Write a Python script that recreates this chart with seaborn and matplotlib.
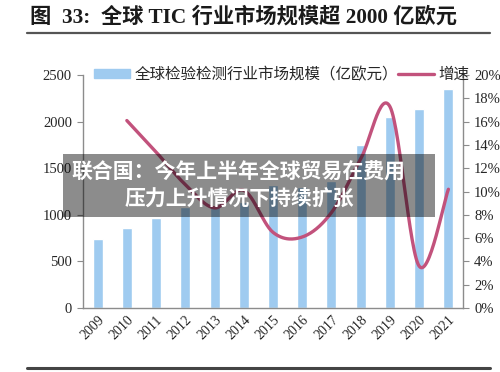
import numpy as np
import pandas as pd
import matplotlib
matplotlib.use("Agg")
import matplotlib.pyplot as plt
import seaborn as sns
from matplotlib.patches import Rectangle
from matplotlib.lines import Line2D
from matplotlib.ticker import FixedLocator

# data
years = ["2009", "2010", "2011", "2012", "2013", "2014", "2015",
         "2016", "2017", "2018", "2019", "2020", "2021"]
market_size = [740, 858, 965, 1084, 1092, 1135, 1320,
               1300, 1360, 1750, 2050, 2135, 2350]   # 亿欧元
growth_years = years[1:]
growth_rate = [16.1, 13.4, 10.6, 8.6, 10.1, 6.5,
               6.1, 8.2, 12.8, 17.3, 3.6, 10.2]        # %

BAR_COLOR = "#9fcbf0"
LINE_COLOR = "#c2527c"
SERIF = ["Liberation Serif", "Noto Sans CJK SC"]


def smooth_curve(x, y, steps=30):
    # Excel-style smoothed line: cubic bezier with control points at 1/6 of the neighbour gap
    x = np.asarray(x, float)
    y = np.asarray(y, float)
    pts = np.column_stack([x, y])
    out = []
    for i in range(len(pts) - 1):
        p0 = pts[i - 1] if i > 0 else pts[i]
        p1 = pts[i]
        p2 = pts[i + 1]
        p3 = pts[i + 2] if i + 2 < len(pts) else pts[i + 1]
        c1 = p1 + (p2 - p0) / 6
        c2 = p2 - (p3 - p1) / 6
        t = np.linspace(0, 1, steps)[:, None]
        seg = ((1 - t) ** 3) * p1 + 3 * ((1 - t) ** 2) * t * c1 + 3 * (1 - t) * t ** 2 * c2 + t ** 3 * p2
        out.append(seg if i == 0 else seg[1:])
    out = np.vstack(out)
    return out[:, 0], out[:, 1]


def draw_chart():
    sns.set_style("white")
    plt.rcParams["font.family"] = SERIF

    fig = plt.figure(figsize=(5.0, 3.72), dpi=100)
    ax = fig.add_axes([0.166, 0.172, 0.76, 0.626])

    df = pd.DataFrame({"year": years, "size": market_size})
    sns.barplot(data=df, x="year", y="size", color=BAR_COLOR, width=0.34,
                saturation=1, ax=ax)
    ax.set_xlim(-0.5, len(years) - 0.5)
    ax.set_ylim(0, 2500)
    ax.set_yticks(range(0, 2501, 500))
    ax.set_xlabel("")
    ax.set_ylabel("")

    # growth line on the right axis
    ax2 = ax.twinx()
    gx = [years.index(y) for y in growth_years]
    sx, sy = smooth_curve(gx, growth_rate)
    sns.lineplot(x=sx, y=sy, ax=ax2, color=LINE_COLOR, linewidth=2.4,
                 sort=False, estimator=None)
    ax2.set_ylim(0, 20)
    ax2.set_yticks(range(0, 21, 2))
    ax2.set_yticklabels([f"{v}%" for v in range(0, 21, 2)])

    for a in (ax, ax2):
        for side in ("top", "left", "right", "bottom"):
            a.spines[side].set_visible(False)
    ax.spines["left"].set_visible(True)
    ax.spines["bottom"].set_visible(True)
    ax2.spines["right"].set_visible(True)
    for s in (ax.spines["left"], ax.spines["bottom"], ax2.spines["right"]):
        s.set_color("#8c8c8c")
        s.set_linewidth(1.0)

    ax.tick_params(axis="y", length=4, color="#8c8c8c", labelsize=10.5, pad=4)
    ax2.tick_params(axis="y", length=4, color="#8c8c8c", labelsize=10.5, pad=4)
    # x ticks sit on the category boundaries
    ax.tick_params(axis="x", which="major", length=0, labelsize=10, pad=4)
    ax.xaxis.set_minor_locator(FixedLocator(np.arange(-0.5, len(years), 1.0)))
    ax.tick_params(axis="x", which="minor", length=4, color="#8c8c8c", direction="out")
    plt.setp(ax.get_xticklabels(), rotation=45, ha="right", rotation_mode="anchor")

    handles = [Rectangle((0, 0), 1, 1, color=BAR_COLOR),
               Line2D([0], [0], color=LINE_COLOR, linewidth=2.4)]
    labels = ["全球检验检测行业市场规模（亿欧元）", "增速"]
    ax2.legend(handles, labels, loc="center left", bbox_to_anchor=(0.03, 1.0),
               ncol=2, frameon=False, handlelength=2.3,
               handleheight=0.45, handletextpad=0.3, columnspacing=0.0,
               borderpad=0.0, borderaxespad=0.0,
               prop={"family": SERIF, "size": 11.2})

    # title and rules
    fig.text(30 / 500, 1 - 17 / 372, "图  33:  全球 TIC 行业市场规模超 2000 亿欧元",
             fontsize=15.3, fontweight="bold", ha="left", va="center", color="#1a1a1a")
    fig.add_artist(Line2D([27 / 500, 490 / 500], [1 - 33 / 372] * 2,
                          color="#555555", linewidth=1.6))
    fig.add_artist(Line2D([27 / 500, 490 / 500], [1 - 368 / 372] * 2,
                          color="#444444", linewidth=2.2))

    # grey caption banner over the plot
    fig.add_artist(Rectangle((63 / 500, 1 - 217 / 372), 372 / 500, 63 / 372,
                             transform=fig.transFigure, facecolor="black",
                             alpha=0.45, edgecolor="none"))
    fig.text(238 / 500, 1 - 172 / 372, "联合国：今年上半年全球贸易在费用",
             fontsize=15, fontweight="bold", color="white", ha="center", va="center",
             family=["Noto Sans CJK SC", "DejaVu Sans"])
    fig.text(239 / 500, 1 - 198 / 372, "压力上升情况下持续扩张",
             fontsize=15, fontweight="bold", color="white", ha="center", va="center",
             family=["Noto Sans CJK SC", "DejaVu Sans"])

    fig.savefig("out.png", dpi=100)


if __name__ == "__main__":
    draw_chart()
